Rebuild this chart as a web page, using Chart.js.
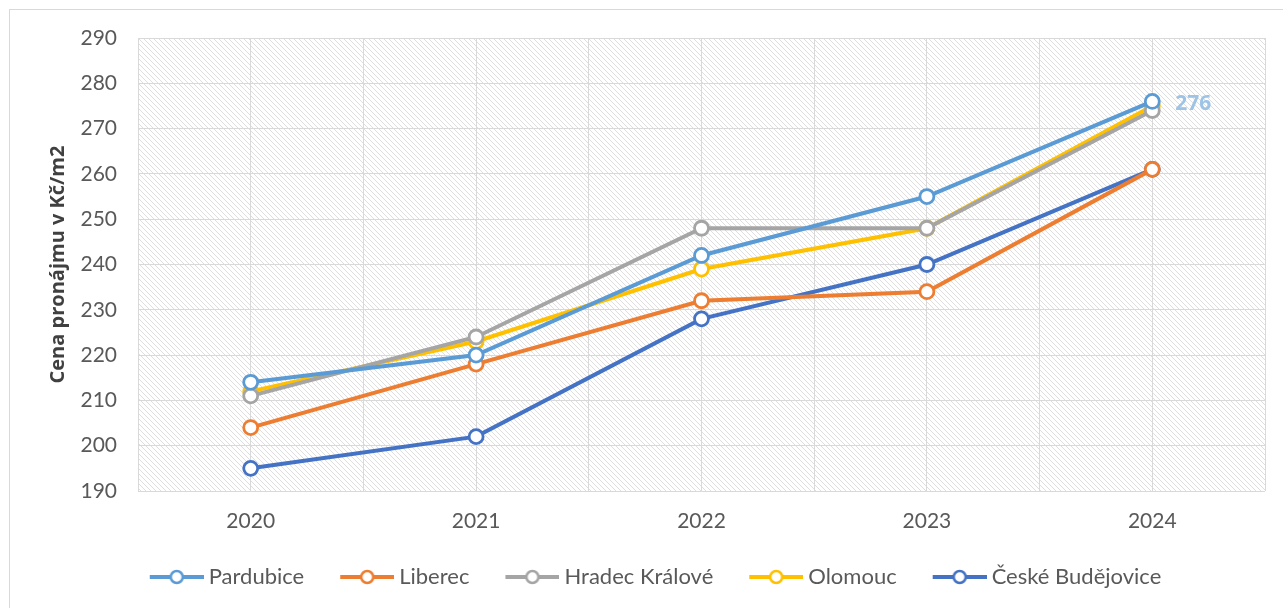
<!DOCTYPE html>
<html>
<head>
<meta charset="utf-8">
<script src="https://cdn.jsdelivr.net/npm/chart.js@4.4.1/dist/chart.umd.min.js"></script>
<style>
  html, body { margin: 0; padding: 0; background: #fff; }
  #wrap { width: 1283px; height: 608px; position: relative; }
  #frame { position: absolute; left: 9px; top: 9px; width: 1400px; height: 700px; border: 1px solid #d9d9d9; box-sizing: border-box; pointer-events: none; }
</style>
</head>
<body>
<div id="wrap">
  <div id="frame"></div>
  <canvas id="cenaChart" width="1283" height="608"></canvas>
</div>
<script>
const roky = ["2020", "2021", "2022", "2023", "2024"];
const pardubice = [214, 220, 242, 255, 276];
const liberec = [204, 218, 232, 234, 261];
const hradec = [211, 224, 248, 248, 274];
const olomouc = [212, 223, 239, 248, 275];
const budejovice = [195, 202, 228, 240, 261];
const yMin = 190, yMax = 290, yStep = 10;

const FONT = "Lato, 'Open Sans', sans-serif";
const GRAY = "#595959";

/* srafovani pozadi */
function hatch() {
  const c = document.createElement("canvas");
  c.width = 5; c.height = 5;
  const g = c.getContext("2d");
  g.strokeStyle = "#dedede";
  g.lineWidth = 1;
  g.beginPath();
  g.moveTo(-1, -1); g.lineTo(6, 6);
  g.moveTo(-1, 4); g.lineTo(1, 6);
  g.moveTo(4, -1); g.lineTo(6, 1);
  g.stroke();
  return c;
}

/* znacka do legendy: cara + kolecko (presahuje box doleva, aby text byl blize) */
function legendMark(color) {
  const c = document.createElement("canvas");
  c.width = 60; c.height = 18;
  const g = c.getContext("2d");
  g.strokeStyle = color;
  g.lineWidth = 4;
  g.beginPath(); g.moveTo(6, 9); g.lineTo(60, 9); g.stroke();
  g.fillStyle = "#fff";
  g.lineWidth = 2.5;
  g.beginPath(); g.arc(33, 9, 6, 0, Math.PI * 2); g.fill(); g.stroke();
  return c;
}

function serie(label, data, color) {
  return {
    label: label,
    data: data,
    borderColor: color,
    backgroundColor: color,
    borderWidth: 4,
    pointRadius: 7,
    pointHoverRadius: 7,
    pointBorderWidth: 2.8,
    pointBackgroundColor: "#fff",
    pointBorderColor: color,
    tension: 0,
    xAxisID: "x"
  };
}

const pozadi = {
  id: "pozadi",
  beforeDraw(chart) {
    const a = chart.chartArea, ctx = chart.ctx;
    ctx.save();
    ctx.fillStyle = ctx.createPattern(hatch(), "repeat");
    ctx.fillRect(a.left, a.top, a.right - a.left, a.bottom - a.top);
    ctx.restore();
  }
};

const popisek = {
  id: "popisek",
  afterDatasetsDraw(chart) {
    const meta = chart.getDatasetMeta(0);
    const last = meta.data[meta.data.length - 1];
    const ctx = chart.ctx;
    ctx.save();
    ctx.font = "bold 21px 'Open Sans', sans-serif";
    ctx.fillStyle = "#9dc3e6";
    ctx.textAlign = "left";
    ctx.textBaseline = "middle";
    ctx.fillText(String(pardubice[pardubice.length - 1]), last.x + 23, last.y + 3);
    ctx.restore();
  }
};

new Chart(document.getElementById("cenaChart"), {
  type: "line",
  data: {
    labels: roky,
    datasets: [
      serie("Pardubice", pardubice, "#5b9bd5"),
      serie("Liberec", liberec, "#ed7d31"),
      serie("Hradec Králové", hradec, "#a5a5a5"),
      serie("Olomouc", olomouc, "#ffc000"),
      serie("České Budějovice", budejovice, "#4472c4")
    ]
  },
  options: {
    responsive: false,
    animation: false,
    layout: { padding: { left: 46, top: 38, right: 18, bottom: 10 } },
    plugins: {
      tooltip: { enabled: false },
      legend: {
        position: "bottom",
        labels: {
          usePointStyle: true,
          pointStyleWidth: 48,
          boxHeight: 18,
          padding: 36,
          color: GRAY,
          font: { family: FONT, size: 22 },
          generateLabels(chart) {
            return chart.data.datasets.map((ds, i) => ({
              text: ds.label,
              fillStyle: ds.borderColor,
              strokeStyle: ds.borderColor,
              fontColor: GRAY,
              lineWidth: 0,
              pointStyle: legendMark(ds.borderColor),
              datasetIndex: i,
              hidden: false
            }));
          }
        }
      }
    },
    scales: {
      x: {
        offset: true,
        grid: { offset: true, color: "#d9d9d9", drawTicks: false },
        border: { display: false },
        ticks: { color: GRAY, padding: 18, font: { family: FONT, size: 21 } },
        afterFit(s) { s.height = 39; }
      },
      xc: {
        position: "bottom",
        offset: true,
        labels: roky,
        grid: { offset: false, color: "#d9d9d9", drawTicks: false },
        border: { display: false },
        ticks: { display: false },
        afterFit(s) { s.height = 0; }
      },
      y: {
        min: yMin,
        max: yMax,
        grid: { color: "#d9d9d9", drawTicks: false },
        border: { display: false },
        ticks: { stepSize: yStep, color: GRAY, padding: 21, font: { family: FONT, size: 21 } },
        title: {
          display: true,
          text: "Cena pronájmu v Kč/m2",
          color: "#404040",
          font: { family: "'Open Sans', sans-serif", size: 20, weight: "bold" },
          padding: { top: 0, bottom: 0 }
        },
        afterFit(s) { s.width = 92; }
      }
    }
  },
  plugins: [pozadi, popisek]
});
</script>
</body>
</html>
